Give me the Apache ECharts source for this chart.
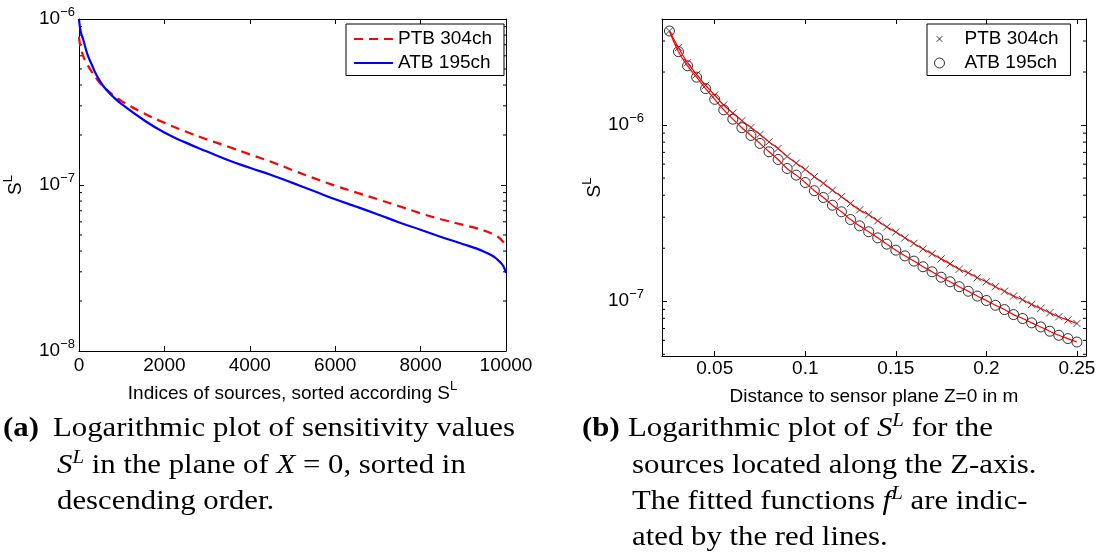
<!DOCTYPE html>
<html>
<head>
<meta charset="utf-8">
<script src="https://cdn.jsdelivr.net/npm/echarts@6/dist/echarts.min.js"></script>
<style>
html, body { margin: 0; padding: 0; background: #fff; }
#main { width: 1100px; height: 556px; }
</style>
</head>
<body>
<div id="main"></div>
<script>
// (a) sensitivity values sorted in descending order
var idxA = [0, 20, 50, 100, 200, 300, 400, 500, 600, 800, 1000, 1500, 2000, 2500, 3000, 3500, 4000, 4500,
    5000, 5500, 6000, 6500, 7000, 7500, 8000, 8500, 9000, 9300, 9500, 9700, 9800, 9900, 9950, 10000];
var ptbA = [7.8e-7, 7.1e-7, 6.6e-7, 5.95e-7, 5.3e-7, 4.8e-7, 4.4e-7, 4.1e-7, 3.85e-7, 3.48e-7, 3.2e-7, 2.72e-7,
    2.37e-7, 2.1e-7, 1.88e-7, 1.7e-7, 1.53e-7, 1.38e-7, 1.23e-7, 1.1e-7, 9.9e-8, 9.0e-8, 8.2e-8, 7.45e-8,
    6.75e-8, 6.2e-8, 5.75e-8, 5.5e-8, 5.3e-8, 5.05e-8, 4.9e-8, 4.65e-8, 4.5e-8, 4.3e-8];
var atbA = [1.0e-6, 9.0e-7, 8.2e-7, 7.5e-7, 6.1e-7, 5.3e-7, 4.65e-7, 4.2e-7, 3.85e-7, 3.4e-7, 3.07e-7, 2.48e-7,
    2.07e-7, 1.8e-7, 1.59e-7, 1.41e-7, 1.27e-7, 1.15e-7, 1.03e-7, 9.2e-8, 8.2e-8, 7.4e-8, 6.65e-8, 5.95e-8,
    5.38e-8, 4.85e-8, 4.4e-8, 4.15e-8, 3.95e-8, 3.72e-8, 3.55e-8, 3.35e-8, 3.2e-8, 2.95e-8];

// (b) sources along the Z-axis
var distB = [0.025, 0.03, 0.035, 0.04, 0.045, 0.05, 0.055, 0.06, 0.065, 0.07, 0.075, 0.08, 0.085, 0.09, 0.095,
    0.1, 0.105, 0.11, 0.115, 0.12, 0.125, 0.13, 0.135, 0.14, 0.145, 0.15, 0.155, 0.16, 0.165, 0.17, 0.175,
    0.18, 0.185, 0.19, 0.195, 0.2, 0.205, 0.21, 0.215, 0.22, 0.225, 0.23, 0.235, 0.24, 0.245, 0.25];
var ptbB = [3.42e-6, 2.75e-6, 2.26e-6, 1.94e-6, 1.68e-6, 1.48e-6, 1.30e-6, 1.17e-6, 1.06e-6, 9.68e-7, 8.85e-7,
    8.03e-7, 7.37e-7, 6.64e-7, 6.08e-7, 5.60e-7, 5.09e-7, 4.67e-7, 4.27e-7, 3.92e-7, 3.59e-7, 3.30e-7, 3.10e-7,
    2.86e-7, 2.64e-7, 2.47e-7, 2.29e-7, 2.13e-7, 1.98e-7, 1.86e-7, 1.74e-7, 1.63e-7, 1.52e-7, 1.45e-7, 1.36e-7,
    1.29e-7, 1.21e-7, 1.14e-7, 1.07e-7, 1.02e-7, 9.6e-8, 9.1e-8, 8.6e-8, 8.17e-8, 7.82e-8, 7.48e-8];
var atbB = [3.42e-6, 2.61e-6, 2.17e-6, 1.87e-6, 1.61e-6, 1.40e-6, 1.22e-6, 1.08e-6, 9.66e-7, 8.73e-7, 7.87e-7,
    7.05e-7, 6.38e-7, 5.67e-7, 5.20e-7, 4.72e-7, 4.24e-7, 3.88e-7, 3.51e-7, 3.22e-7, 2.91e-7, 2.68e-7, 2.48e-7,
    2.29e-7, 2.11e-7, 1.95e-7, 1.81e-7, 1.69e-7, 1.57e-7, 1.47e-7, 1.37e-7, 1.29e-7, 1.21e-7, 1.14e-7, 1.07e-7,
    1.01e-7, 9.49e-8, 8.97e-8, 8.40e-8, 7.98e-8, 7.54e-8, 7.15e-8, 6.76e-8, 6.41e-8, 6.14e-8, 5.87e-8];

// axis ranges
var xRangeA = [0, 10000];
var yRangeA = [1e-8, 1e-6];
var xRangeB = [0.0209, 0.255];
var yRangeB = [4.89e-8, 4.0e-6];
var minorMult = [2, 3, 4, 5, 6, 7, 8, 9];
var minorDecades = [1e-8, 1e-7, 1e-6];

var sans = 'Liberation Sans';
var serif = 'Liberation Serif';
var fs = 19;

function pairs(xs, ys) {
    return xs.map(function(x, i) { return [x, ys[i]]; });
}

// kleine Log-Teilstriche (2..9) links und rechts
function minorData(xr, yr) {
    var out = [];
    minorDecades.forEach(function(d) {
        minorMult.forEach(function(m) {
            var v = m * d;
            if (v > yr[0] * 1.01 && v < yr[1] * 0.99) out.push([xr[0], v]);
        });
    });
    return out;
}

function minorSeries(xi, xr, yr) {
    return {
        type: 'custom',
        xAxisIndex: xi,
        yAxisIndex: xi,
        silent: true,
        data: minorData(xr, yr),
        renderItem: function(params, api) {
            var v = api.value(1);
            var p0 = api.coord([xr[0], v]);
            var p1 = api.coord([xr[1], v]);
            return {
                type: 'group',
                children: [{
                    type: 'line',
                    shape: { x1: p0[0], y1: p0[1], x2: p0[0] + 3, y2: p0[1] },
                    style: { stroke: '#000', lineWidth: 1 }
                }, {
                    type: 'line',
                    shape: { x1: p1[0] - 3, y1: p1[1], x2: p1[0], y2: p1[1] },
                    style: { stroke: '#000', lineWidth: 1 }
                }]
            };
        }
    };
}

function expLabel(v) {
    var e = Math.log10(v);
    if (Math.abs(e - Math.round(e)) > 1e-6) return '';
    return '{b|10}{s|\u2212' + Math.abs(Math.round(e)) + '}';
}

var supRich = {
    b: { fontFamily: sans, fontSize: fs, lineHeight: 27, color: '#000' },
    s: { fontFamily: sans, fontSize: 13, verticalAlign: 'top', color: '#000' }
};

var lineAx = { show: true, onZero: false, lineStyle: { color: '#000', width: 1 } };
var tickAx = { show: true, inside: true, length: 5, lineStyle: { color: '#000', width: 1 } };

function xAx(grid, range, pos, extra) {
    var o = {
        type: 'value', gridIndex: grid, position: pos, min: range[0], max: range[1],
        axisLine: lineAx, axisTick: tickAx, splitLine: { show: false },
        axisLabel: { show: false }
    };
    return Object.assign(o, extra || {});
}

function yAx(grid, range, pos, extra) {
    var o = {
        type: 'log', logBase: 10, gridIndex: grid, position: pos, min: range[0], max: range[1],
        axisLine: lineAx, axisTick: tickAx, splitLine: { show: false },
        axisLabel: { show: false }
    };
    return Object.assign(o, extra || {});
}

var crossPath = 'path://M-4,-4M14,14M0,0L10,10M10,0L0,10';

var capRich = {
    bd: { fontFamily: serif, fontSize: 28, lineHeight: 36, fontWeight: 'bold', color: '#000' },
    i: { fontFamily: serif, fontSize: 28, lineHeight: 36, fontStyle: 'italic', color: '#000' },
    sup: { fontFamily: serif, fontSize: 19, fontStyle: 'italic', verticalAlign: 'top', color: '#000' }
};

function cap(x, y, text) {
    return {
        type: 'text', x: x, y: y, scaleX: 1.1,
        style: {
            text: text, fontFamily: serif, fontSize: 28, lineHeight: 36, fill: '#000',
            verticalAlign: 'middle', rich: capRich
        }
    };
}

var legendText = { fontFamily: sans, fontSize: fs, lineHeight: 19, color: '#000' };

var myChart = echarts.init(document.getElementById('main'), null, { renderer: 'canvas' });

var option = {
    animation: false,
    backgroundColor: '#fff',
    grid: [
        { left: 79, top: 19, width: 427, height: 332, outerBoundsMode: 'none' },
        { left: 662, top: 19, width: 424, height: 337, outerBoundsMode: 'none' }
    ],
    xAxis: [
        xAx(0, xRangeA, 'bottom', {
            interval: 2000,
            axisLabel: {
                show: true, margin: 5, color: '#000', fontFamily: sans, fontSize: fs,
                formatter: function(v) { return String(v); }
            },
            name: 'Indices of sources, sorted according {b|S}{s|L}',
            nameLocation: 'middle', nameGap: 29,
            nameTextStyle: { fontFamily: sans, fontSize: fs, lineHeight: 27, color: '#000', rich: supRich }
        }),
        xAx(0, xRangeA, 'top', { interval: 2000 }),
        xAx(1, xRangeB, 'bottom', {
            axisLabel: {
                show: true, margin: 3, color: '#000', fontFamily: sans, fontSize: fs,
                formatter: function(v) {
                    var k = v / 0.05;
                    return Math.abs(k - Math.round(k)) < 1e-6 ? String(+v.toFixed(2)) : '';
                }
            },
            name: 'Distance to sensor plane Z=0 in m',
            nameLocation: 'middle', nameGap: 23,
            nameTextStyle: { fontFamily: sans, fontSize: fs, lineHeight: 27, color: '#000' }
        }),
        xAx(1, xRangeB, 'top')
    ],
    yAxis: [
        yAx(0, yRangeA, 'left', {
            axisLabel: { show: true, margin: 4, formatter: expLabel, rich: supRich },
            name: '{b|S}{s|L}', nameLocation: 'middle', nameRotate: 90, nameGap: 50,
            nameTextStyle: { rich: supRich }
        }),
        yAx(0, yRangeA, 'right'),
        yAx(1, yRangeB, 'left', {
            axisLabel: { show: true, margin: 18, formatter: expLabel, rich: supRich },
            name: '{b|S}{s|L}', nameLocation: 'middle', nameRotate: 90, nameGap: 50,
            nameTextStyle: { rich: supRich }
        }),
        yAx(1, yRangeB, 'right')
    ],
    legend: [{
        data: ['PTB 304ch', 'ATB 195ch'],
        orient: 'vertical', left: 346, top: 24,
        padding: [5.5, 12, 3, 7], itemGap: 5, itemWidth: 39, itemHeight: 14,
        itemStyle: { color: 'transparent', borderWidth: 0 },
        backgroundColor: '#fff', borderColor: '#000', borderWidth: 1,
        textStyle: legendText,
        selectedMode: false
    }, {
        data: [
            { name: 'PTB 304ch ', icon: crossPath },
            { name: 'ATB 195ch ', icon: 'circle' }
        ],
        formatter: function(name) { return name.trim(); },
        orient: 'vertical', left: 927, top: 24,
        padding: [5.5, 12, 3, 7], itemGap: 5, itemWidth: 40, itemHeight: 10,
        itemStyle: { color: 'transparent', borderColor: '#000', borderWidth: 1 },
        backgroundColor: '#fff', borderColor: '#000', borderWidth: 1,
        textStyle: legendText,
        selectedMode: false
    }],
    series: [{
        name: 'PTB 304ch',
        type: 'line',
        xAxisIndex: 0, yAxisIndex: 0,
        data: pairs(idxA, ptbA),
        smooth: true, symbol: 'none',
        lineStyle: { color: '#ff0000', width: 2.2, type: [9, 6] },
        itemStyle: { color: '#ff0000' }
    }, {
        name: 'ATB 195ch',
        type: 'line',
        xAxisIndex: 0, yAxisIndex: 0,
        data: pairs(idxA, atbA),
        smooth: true, symbol: 'none',
        lineStyle: { color: '#0000ff', width: 2.2 },
        itemStyle: { color: '#0000ff' }
    },
    minorSeries(0, xRangeA, yRangeA),
    {
        name: 'PTB 304ch ',
        type: 'scatter',
        xAxisIndex: 2, yAxisIndex: 2,
        data: pairs(distB, ptbB),
        symbol: crossPath, symbolSize: 13,
        itemStyle: { color: 'transparent', borderColor: '#000', borderWidth: 0.9 }
    }, {
        name: 'ATB 195ch ',
        type: 'scatter',
        xAxisIndex: 2, yAxisIndex: 2,
        data: pairs(distB, atbB),
        symbol: 'circle', symbolSize: 10,
        itemStyle: { color: 'transparent', borderColor: '#000', borderWidth: 1 }
    }, {
        name: 'fit PTB',
        type: 'line',
        xAxisIndex: 2, yAxisIndex: 2,
        data: pairs(distB, ptbB),
        smooth: true, symbol: 'none', z: 3,
        lineStyle: { color: '#ff0000', width: 1.2 }
    }, {
        name: 'fit ATB',
        type: 'line',
        xAxisIndex: 2, yAxisIndex: 2,
        data: pairs(distB, atbB),
        smooth: true, symbol: 'none', z: 3,
        lineStyle: { color: '#ff0000', width: 1.2 }
    },
    minorSeries(2, xRangeB, yRangeB)
    ],
    graphic: [
        cap(3, 429, '{bd|(a)}'),
        cap(53, 429, 'Logarithmic plot of sensitivity values'),
        cap(57, 466, '{i|S}{sup|L} in the plane of {i|X} = 0, sorted in'),
        cap(57, 502, 'descending order.'),
        cap(582, 429, '{bd|(b)}'),
        cap(628, 429, 'Logarithmic plot of {i|S}{sup|L} for the'),
        cap(632, 466, 'sources located along the Z-axis.'),
        cap(632, 502, 'The fitted functions {i|f}{sup|L} are indic-'),
        cap(632, 538, 'ated by the red lines.')
    ]
};

myChart.setOption(option);
</script>
</body>
</html>
